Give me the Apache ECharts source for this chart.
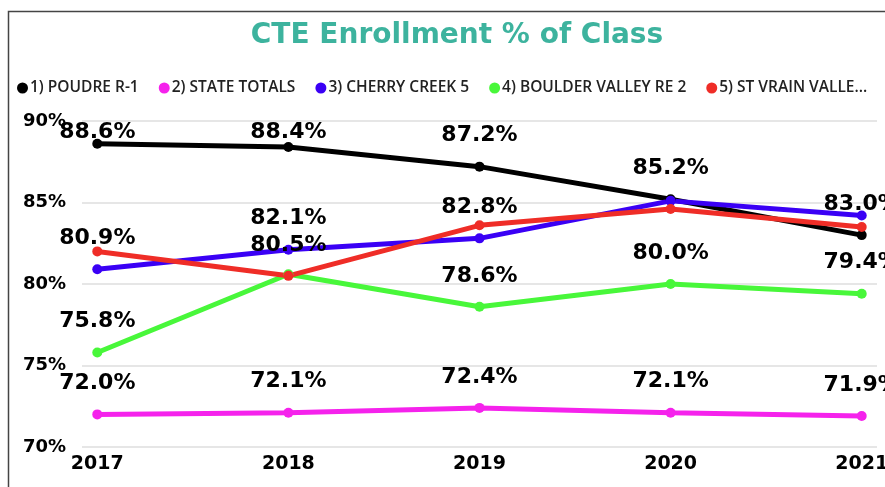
<!DOCTYPE html>
<html>
<head>
<meta charset="utf-8">
<title>CTE Enrollment % of Class</title>
<script src="https://cdn.jsdelivr.net/npm/echarts@6/dist/echarts.min.js"></script>
<style>
  html, body { margin: 0; padding: 0; background: #fff; }
  #chart { width: 885px; height: 487px; }
</style>
</head>
<body>
<div id="chart"></div>
<script>
// data
const years = [2017, 2018, 2019, 2020, 2021];
const poudre = [88.6, 88.4, 87.2, 85.2, 83.0];
const stateTotals = [72.0, 72.1, 72.4, 72.1, 71.9];
const cherryCreek = [80.9, 82.1, 82.8, 85.1, 84.2];
const boulderValley = [75.8, 80.6, 78.6, 80.0, 79.4];
const stVrain = [82.0, 80.5, 83.6, 84.6, 83.5];
const yTicks = [70, 75, 80, 85, 90];

// plot area, in px
const GRID_TOP = 121;
const GRID_BOTTOM = 40;

// series: name, values, colour, which value labels stay visible (others are hidden by overlap)
const lines = [
  { name: '1) POUDRE R-1', values: poudre, color: '#000000', labels: [1, 1, 1, 1, 1] },
  { name: '2) STATE TOTALS', values: stateTotals, color: '#F522EC', labels: [1, 1, 1, 1, 1] },
  { name: '3) CHERRY CREEK 5', values: cherryCreek, color: '#3A00F5', labels: [1, 1, 1, 0, 0] },
  { name: '4) BOULDER VALLEY RE 2', values: boulderValley, color: '#48F73A', labels: [1, 0, 1, 1, 1] },
  { name: '5) ST VRAIN VALLEY RE 1J', values: stVrain, color: '#EF2D27', labels: [0, 1, 0, 0, 0] },
];

const chart = echarts.init(document.getElementById('chart'));

const option = {
  backgroundColor: '#fff',
  animation: false,
  title: {
    text: 'CTE Enrollment % of Class',
    left: 452,
    textAlign: 'center',
    top: 17,
    textStyle: {
      fontFamily: 'DejaVu Sans',
      fontWeight: 'bold',
      fontSize: 28,
      color: '#3DB39E',
    },
  },
  legend: {
    left: 12,
    top: 75,
    width: 880,
    icon: 'circle',
    itemWidth: 11,
    itemHeight: 11,
    itemGap: 20,
    textStyle: {
      fontFamily: 'Open Sans',
      fontWeight: 600,
      fontSize: 15.5,
      color: '#222',
      padding: [0, 0, 0, -3],
    },
    data: lines.map((l, i) => (i === lines.length - 1
      ? { name: l.name, textStyle: { width: 153, overflow: 'truncate', ellipsis: '...' } }
      : { name: l.name })),
  },
  graphic: [{
    // frame around the visual (left and top edges)
    type: 'polyline',
    shape: { points: [[8.5, 487], [8.5, 11.5], [885, 11.5]] },
    style: { fill: null, stroke: '#444', lineWidth: 1.5 },
    silent: true,
  }],
  grid: { left: 82, right: 8, top: GRID_TOP, bottom: GRID_BOTTOM, outerBoundsMode: 'none' },
  xAxis: {
    type: 'value',
    min: 2016.92,
    max: 2021.08,
    axisLine: { show: false },
    axisTick: { show: false },
    splitLine: { show: false },
    axisLabel: {
      customValues: years,
      formatter: (v) => String(v),
      margin: 8,
      fontFamily: 'DejaVu Sans',
      fontWeight: 'bold',
      fontSize: 19,
      color: '#000',
      hideOverlap: false,
    },
  },
  yAxis: {
    type: 'value',
    min: yTicks[0],
    max: yTicks[yTicks.length - 1],
    interval: 5,
    axisLine: { show: false },
    axisTick: { show: false },
    splitLine: { lineStyle: { color: '#E6E6E6', width: 2 } },
    axisLabel: {
      formatter: '{value}%',
      margin: 16,
      fontFamily: 'DejaVu Sans',
      fontWeight: 'bold',
      fontSize: 18,
      color: '#000',
    },
  },
  // keep value labels inside the plot area like the original
  labelLayout: (params) => {
    if (params.labelRect && params.labelRect.y < GRID_TOP) {
      return { dy: GRID_TOP - params.labelRect.y };
    }
    return {};
  },
  series: lines.map((l) => ({
    name: l.name,
    type: 'line',
    color: l.color,
    symbol: 'circle',
    symbolSize: 10,
    lineStyle: { width: 5, color: l.color },
    itemStyle: { color: l.color },
    label: {
      position: 'top',
      distance: 15,
      fontFamily: 'DejaVu Sans',
      fontWeight: 'bold',
      fontSize: 22,
      color: '#000',
      formatter: (p) => p.value[1].toFixed(1) + '%',
    },
    data: l.values.map((v, i) => ({
      value: [years[i], v],
      label: { show: !!l.labels[i] },
    })),
  })),
};

chart.setOption(option);
</script>
</body>
</html>
